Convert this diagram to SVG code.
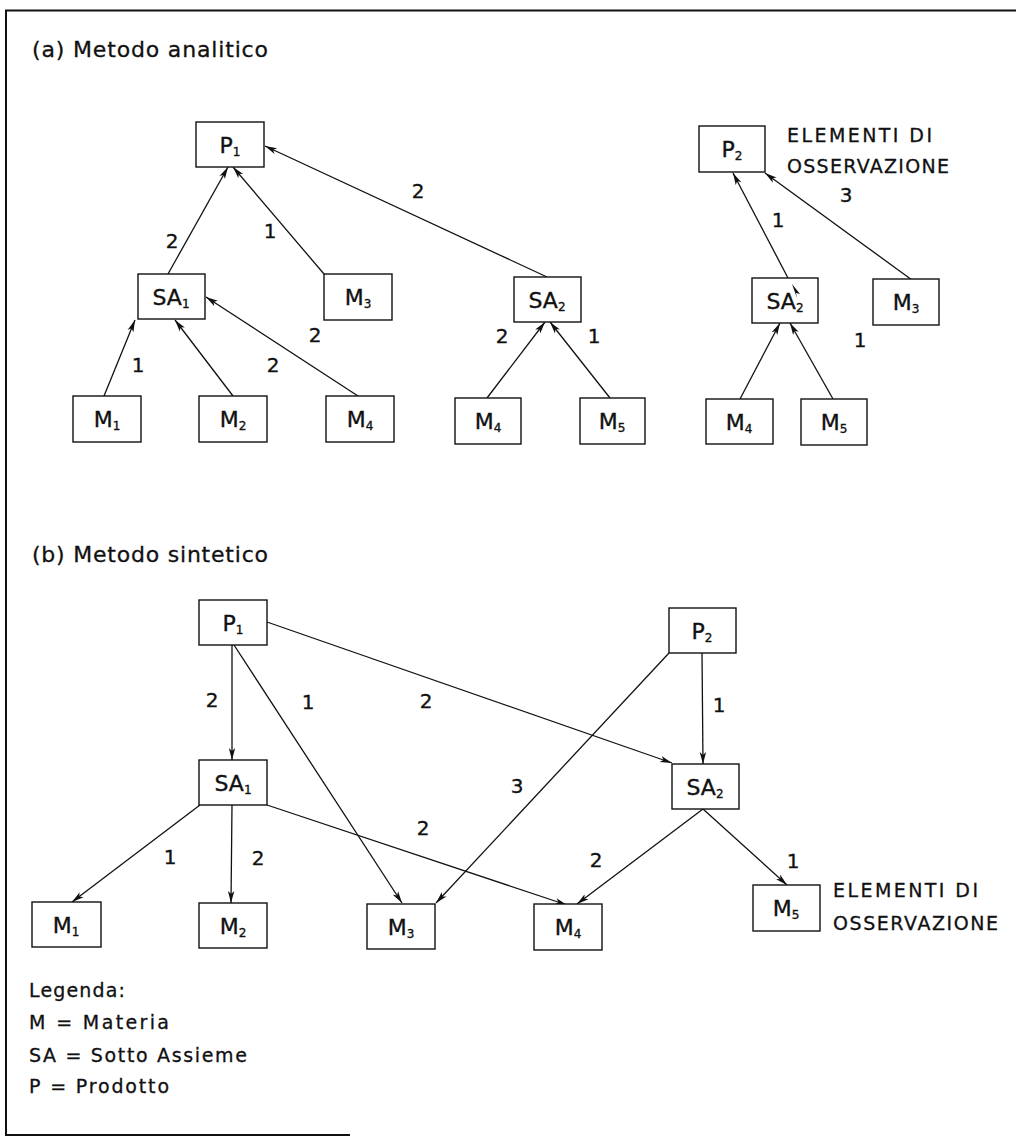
<svg xmlns="http://www.w3.org/2000/svg" width="1016" height="1138" viewBox="0 0 1016 1138">
<style>
.box{fill:#fff;stroke:#111;stroke-width:1.4}
.lbl{font-family:"DejaVu Sans","Liberation Sans",sans-serif;font-size:22px;fill:#111;stroke:#111;stroke-width:0.35;text-anchor:middle}
.sub{font-size:12px}
.num{font-family:"DejaVu Sans","Liberation Sans",sans-serif;font-size:20px;fill:#111;stroke:#111;stroke-width:0.35;text-anchor:middle}
.txt{font-family:"DejaVu Sans","Liberation Sans",sans-serif;fill:#111;stroke:#111;stroke-width:0.3}
.edge{stroke:#111;stroke-width:1.3;fill:none;marker-end:url(#arr)}
.frame{stroke:#111;stroke-width:2;fill:none}
</style>
<defs>
<marker id="arr" markerUnits="userSpaceOnUse" markerWidth="13" markerHeight="8" refX="12" refY="4" orient="auto">
<path d="M0,0.8 L12,4 L0,7.2 L3,4 Z" fill="#111"/>
</marker>
</defs>
<rect width="1016" height="1138" fill="#fff"/>
<g id="frame">
<path class="frame" d="M1016,10.5 L6,10.5 L6,1135 L350,1135"/>
</g>
<text class="txt" x="32" y="57" font-size="22" textLength="236" lengthAdjust="spacing">(a) Metodo analitico</text>
<text class="txt" x="32" y="562" font-size="22" textLength="236" lengthAdjust="spacing">(b) Metodo sintetico</text>

<g id="connectors">
<!-- (a) -->
<line class="edge" x1="168" y1="274" x2="228" y2="167"/>
<line class="edge" x1="324" y1="274" x2="233" y2="167"/>
<line class="edge" x1="547" y1="277" x2="265" y2="146"/>
<line class="edge" x1="104" y1="396" x2="135" y2="320"/>
<line class="edge" x1="233" y1="396" x2="175" y2="320"/>
<line class="edge" x1="358" y1="396" x2="206" y2="297"/>
<line class="edge" x1="487" y1="398" x2="545" y2="322"/>
<line class="edge" x1="610" y1="398" x2="550" y2="322"/>
<line class="edge" x1="788" y1="278" x2="733" y2="173"/>
<line class="edge" x1="912" y1="280" x2="765" y2="173"/>
<line class="edge" x1="740" y1="399" x2="780" y2="323"/>
<line class="edge" x1="833" y1="399" x2="790" y2="323"/>
<!-- (b) -->
<line class="edge" x1="232" y1="645" x2="232" y2="760"/>
<line class="edge" x1="234" y1="645" x2="402" y2="903"/>
<line class="edge" x1="267" y1="622" x2="672" y2="763"/>
<line class="edge" x1="702" y1="653" x2="703" y2="764"/>
<line class="edge" x1="669" y1="653" x2="436" y2="903"/>
<line class="edge" x1="200" y1="805" x2="72" y2="902"/>
<line class="edge" x1="232" y1="805" x2="231" y2="903"/>
<line class="edge" x1="267" y1="805" x2="567" y2="905"/>
<line class="edge" x1="703" y1="809" x2="577" y2="904"/>
<line class="edge" x1="703" y1="809" x2="787" y2="885"/>
<!-- labels -->
<text class="num" x="172" y="248">2</text>
<text class="num" x="270" y="238">1</text>
<text class="num" x="418" y="198">2</text>
<text class="num" x="138" y="372">1</text>
<text class="num" x="273" y="372">2</text>
<text class="num" x="315" y="342">2</text>
<text class="num" x="502" y="343">2</text>
<text class="num" x="594" y="343">1</text>
<text class="num" x="778" y="227">1</text>
<text class="num" x="846" y="202">3</text>
<text class="num" x="860" y="347">1</text>
<text class="num" x="212" y="707">2</text>
<text class="num" x="308" y="709">1</text>
<text class="num" x="426" y="708">2</text>
<text class="num" x="719" y="712">1</text>
<text class="num" x="517" y="793">3</text>
<text class="num" x="170" y="864">1</text>
<text class="num" x="258" y="865">2</text>
<text class="num" x="423" y="835">2</text>
<text class="num" x="596" y="867">2</text>
<text class="num" x="793" y="868">1</text>
</g>

<!-- (a) nodes -->
<g id="a-P1"><rect class="box" x="196" y="122" width="68" height="45"/><text class="lbl" x="230" y="153">P<tspan class="sub" dy="3">1</tspan></text></g>
<g id="a-SA1"><rect class="box" x="138" y="274" width="67" height="45"/><text class="lbl" x="171" y="305">SA<tspan class="sub" dy="3">1</tspan></text></g>
<g id="a-M3"><rect class="box" x="324" y="274" width="68" height="46"/><text class="lbl" x="358" y="305">M<tspan class="sub" dy="3">3</tspan></text></g>
<g id="a-M1"><rect class="box" x="73" y="396" width="68" height="46"/><text class="lbl" x="107" y="427">M<tspan class="sub" dy="3">1</tspan></text></g>
<g id="a-M2"><rect class="box" x="199" y="396" width="68" height="46"/><text class="lbl" x="233" y="427">M<tspan class="sub" dy="3">2</tspan></text></g>
<g id="a-M4"><rect class="box" x="326" y="396" width="68" height="46"/><text class="lbl" x="360" y="427">M<tspan class="sub" dy="3">4</tspan></text></g>
<g id="a-SA2"><rect class="box" x="514" y="277" width="67" height="45"/><text class="lbl" x="547" y="308">SA<tspan class="sub" dy="3">2</tspan></text></g>
<g id="a-M4b"><rect class="box" x="455" y="398" width="66" height="46"/><text class="lbl" x="488" y="429">M<tspan class="sub" dy="3">4</tspan></text></g>
<g id="a-M5"><rect class="box" x="580" y="398" width="65" height="46"/><text class="lbl" x="612" y="429">M<tspan class="sub" dy="3">5</tspan></text></g>
<g id="a-P2"><rect class="box" x="699" y="126" width="66" height="46"/><text class="lbl" x="732" y="157">P<tspan class="sub" dy="3">2</tspan></text></g>
<g id="a-SA2r"><rect class="box" x="752" y="278" width="66" height="45"/><text class="lbl" x="785" y="309">SA<tspan class="sub" dy="3">2</tspan></text><path d="M792,284 L800,294 L796,293 L797,298 Z" fill="#111"/></g>
<g id="a-M3r"><rect class="box" x="873" y="279" width="66" height="46"/><text class="lbl" x="906" y="310">M<tspan class="sub" dy="3">3</tspan></text></g>
<g id="a-M4r"><rect class="box" x="706" y="399" width="67" height="45"/><text class="lbl" x="739" y="430">M<tspan class="sub" dy="3">4</tspan></text></g>
<g id="a-M5r"><rect class="box" x="801" y="399" width="66" height="46"/><text class="lbl" x="834" y="430">M<tspan class="sub" dy="3">5</tspan></text></g>
<g id="a-note">
<text class="txt" x="787" y="142" font-size="19" textLength="145" lengthAdjust="spacing">ELEMENTI DI</text>
<text class="txt" x="787" y="173" font-size="19" textLength="162" lengthAdjust="spacing">OSSERVAZIONE</text>
</g>

<!-- (b) nodes -->
<g id="b-P1"><rect class="box" x="199" y="600" width="68" height="45"/><text class="lbl" x="233" y="631">P<tspan class="sub" dy="3">1</tspan></text></g>
<g id="b-SA1"><rect class="box" x="199" y="760" width="68" height="45"/><text class="lbl" x="233" y="791">SA<tspan class="sub" dy="3">1</tspan></text></g>
<g id="b-P2"><rect class="box" x="669" y="608" width="67" height="45"/><text class="lbl" x="702" y="639">P<tspan class="sub" dy="3">2</tspan></text></g>
<g id="b-SA2"><rect class="box" x="672" y="764" width="67" height="45"/><text class="lbl" x="705" y="795">SA<tspan class="sub" dy="3">2</tspan></text></g>
<g id="b-M1"><rect class="box" x="32" y="902" width="69" height="45"/><text class="lbl" x="66" y="933">M<tspan class="sub" dy="3">1</tspan></text></g>
<g id="b-M2"><rect class="box" x="199" y="903" width="68" height="45"/><text class="lbl" x="233" y="934">M<tspan class="sub" dy="3">2</tspan></text></g>
<g id="b-M3"><rect class="box" x="367" y="904" width="68" height="45"/><text class="lbl" x="401" y="935">M<tspan class="sub" dy="3">3</tspan></text></g>
<g id="b-M4"><rect class="box" x="534" y="904" width="68" height="46"/><text class="lbl" x="568" y="935">M<tspan class="sub" dy="3">4</tspan></text></g>
<g id="b-M5"><rect class="box" x="753" y="885" width="67" height="46"/><text class="lbl" x="786" y="916">M<tspan class="sub" dy="3">5</tspan></text></g>
<g id="b-note">
<text class="txt" x="833" y="897" font-size="19" textLength="145" lengthAdjust="spacing">ELEMENTI DI</text>
<text class="txt" x="833" y="930" font-size="19" textLength="165" lengthAdjust="spacing">OSSERVAZIONE</text>
</g>

<g id="legend">
<text class="txt" x="29" y="997" font-size="19" textLength="96" lengthAdjust="spacing">Legenda:</text>
<text class="txt" x="29" y="1029" font-size="19" textLength="140" lengthAdjust="spacing">M = Materia</text>
<text class="txt" x="29" y="1062" font-size="19" textLength="218" lengthAdjust="spacing">SA = Sotto Assieme</text>
<text class="txt" x="29" y="1093" font-size="19" textLength="140" lengthAdjust="spacing">P = Prodotto</text>
</g>
</svg>
